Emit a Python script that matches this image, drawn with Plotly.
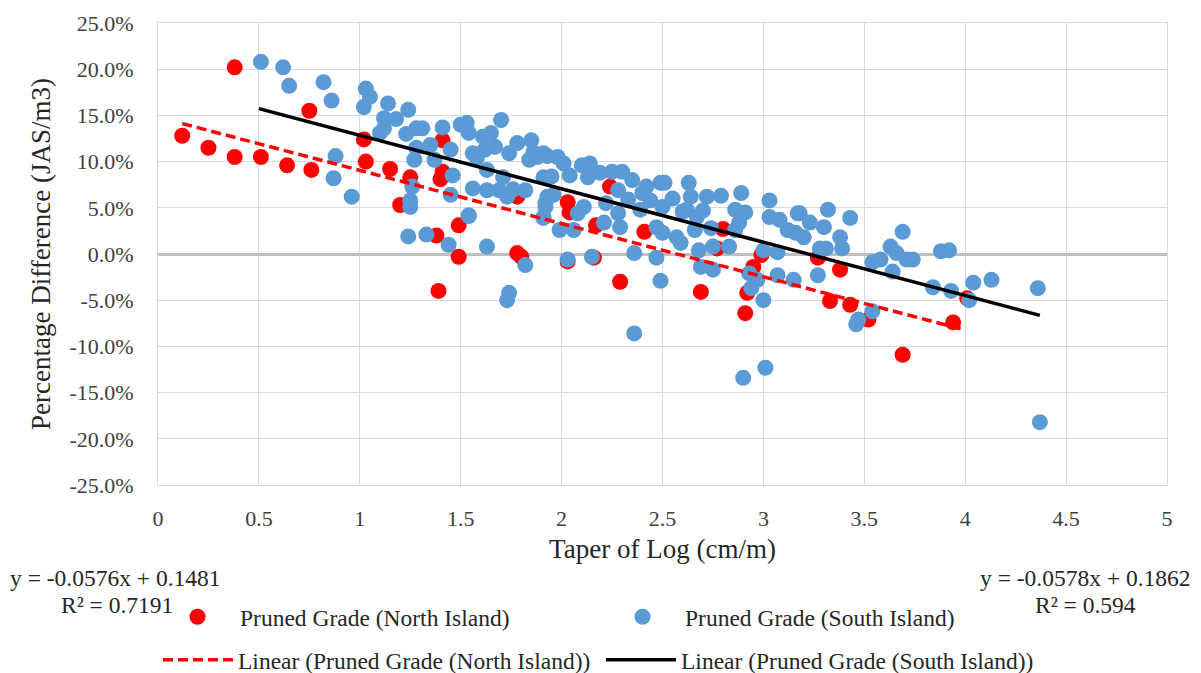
import plotly.graph_objects as go

# ---------------- data ----------------
north_x = [0.12, 0.25, 0.38, 0.38, 0.51, 0.64, 0.75, 0.76, 1.02, 1.03, 1.15, 1.25, 1.20,
           1.40, 1.41, 1.41, 1.38, 1.39, 1.49, 1.49, 1.78, 1.78, 1.80, 2.03, 2.04, 2.03,
           2.16, 2.17, 2.29, 2.41, 2.24, 2.80, 2.77, 2.99, 2.95, 2.69, 2.92, 2.91, 3.27,
           3.38, 3.33, 3.43, 3.52, 3.69, 4.01, 3.94]
north_y = [12.8, 11.5, 20.2, 10.5, 10.5, 9.6, 15.5, 9.1, 12.4, 10.0, 9.2, 8.3, 5.3,
           8.1, 8.9, 12.3, 2.0, -4.0, 3.1, -0.3, 6.2, 0.1, -0.3, 5.6, 4.5, -0.8,
           -0.4, 3.1, -3.0, 2.4, 7.3, 2.7, 0.6, -0.1, -1.4, -4.1, -4.2, -6.4, -0.4,
           -1.7, -5.1, -5.5, -7.1, -10.9, -4.8, -7.4]

south_x = [0.51, 0.62, 0.65, 0.82, 0.86, 0.88, 0.87, 0.96, 1.03, 1.05, 1.02, 1.14, 1.12,
           1.12, 1.10, 1.24, 1.23, 1.28, 1.28, 1.26, 1.25, 1.25, 1.24, 1.31, 1.41, 1.35,
           1.37, 1.45, 1.46, 1.45, 1.50, 1.53, 1.54, 1.56, 1.56, 1.61, 1.65, 1.62, 1.63,
           1.63, 1.69, 1.71, 1.74, 1.78, 1.73, 1.82, 1.85, 1.84, 1.88, 1.91, 1.92, 1.91,
           1.54, 1.27, 1.91, 1.98, 2.01, 2.04, 2.14, 2.13, 1.93, 1.96, 1.92, 1.91, 1.99,
           2.06, 2.08, 2.11, 2.25, 2.30, 2.35, 2.28, 2.22, 2.28, 2.29, 2.42, 2.49, 2.51,
           2.44, 2.50, 2.39, 2.47, 2.50, 2.21, 2.57, 2.63, 2.64, 2.72, 2.62, 2.67, 2.66,
           2.74, 2.75, 2.83, 2.59, 2.68, 2.69, 2.75, 2.89, 2.86, 2.91, 2.88, 2.86, 3.03,
           3.03, 3.08, 3.00, 3.07, 3.12, 3.17, 3.16, 2.93, 2.97, 3.07, 3.15, 3.18, 3.23,
           3.32, 3.30, 3.43, 3.38, 3.39, 3.28, 3.31, 3.20, 3.27, 3.54, 3.58, 3.63, 3.69,
           3.66, 3.71, 3.74, 3.64, 3.84, 3.47, 3.46, 3.54, 3.88, 3.92, 3.93, 4.02, 4.04,
           4.13, 4.36, 4.37, 2.90, 3.01, 3.00, 2.94, 2.36, 2.49, 2.47, 2.36, 2.15, 2.03,
           1.82, 1.74, 1.73, 1.63, 1.33, 1.54, 1.93, 1.58, 1.67, 1.76, 1.86, 1.95, 2.19,
           2.33, 2.55, 2.60, 2.79, 1.44, 1.18, 1.70, 2.10, 2.40, 2.70]
south_y = [20.8, 20.2, 18.2, 18.6, 16.6, 10.6, 8.2, 6.2, 17.9, 17.0, 15.9, 16.3, 14.7,
           13.6, 13.1, 15.6, 13.0, 13.6, 11.5, 7.3, 5.8, 5.1, 1.9, 13.6, 13.7, 11.8,
           10.2, 11.3, 8.5, 6.4, 14.0, 14.2, 13.1, 10.9, 7.1, 12.7, 13.1, 11.3, 9.1,
           6.9, 6.9, 8.3, 10.9, 12.0, 6.2, 6.9, 12.3, 10.2, 10.5, 8.3, 5.5, 4.0,
           4.2, 10.2, 10.9, 10.5, 9.8, 8.5, 9.8, 8.3, 6.2, 6.4, 5.1, 3.9, 2.6,
           2.6, 4.4, 5.1, 8.9, 8.9, 8.0, 6.9, 5.5, 4.4, 2.9, 7.3, 7.7, 7.7,
           5.8, 5.1, 4.8, 2.9, 2.3, 3.4, 1.8, 7.7, 6.2, 6.2, 4.8, 4.0, 2.6,
           2.8, 0.8, 0.8, 1.2, 0.4, -1.4, -1.7, 6.6, 4.8, 4.5, 3.4, 2.6, 5.8,
           4.0, 3.7, 0.4, 0.2, 2.6, 4.4, 2.3, -2.1, -2.8, -2.3, -2.8, 4.4, 3.4,
           4.8, 2.9, 3.9, 1.8, 0.6, 0.6, 0.6, 1.8, -2.3, -0.9, -0.6, 0.8, 2.4,
           0.1, -0.6, -0.6, -1.9, -3.6, -7.1, -7.6, -6.2, 0.3, 0.4, -4.0, -5.0, -3.1,
           -2.8, -3.7, -18.2, -13.4, -12.3, -5.0, -3.7, -8.6, -2.9, -0.4, 0.1, -0.3, -0.6,
           -1.2, -4.2, -5.0, 0.8, 2.1, 4.1, 10.6, 10.4, 11.6, 7.0, 11.0, 8.4, 8.8,
           5.9, 6.0, 4.6, 6.3, 1.0, 14.6, 14.5, 9.6, 6.6, 4.7, 3.3]

# Trendline equations shown on the chart
north_slope, north_icpt, north_r2 = -0.0576, 0.1481, 0.7191
south_slope, south_icpt, south_r2 = -0.0578, 0.1862, 0.594
north_range = [0.12, 4.0]
south_range = [0.5, 4.37]

x_ticks = [0, 0.5, 1, 1.5, 2, 2.5, 3, 3.5, 4, 4.5, 5]
x_tick_text = ["0", "0.5", "1", "1.5", "2", "2.5", "3", "3.5", "4", "4.5", "5"]
y_ticks = [25, 20, 15, 10, 5, 0, -5, -10, -15, -20, -25]
y_tick_text = ["25.0%", "20.0%", "15.0%", "10.0%", "5.0%", "0.0%", "-5.0%", "-10.0%",
               "-15.0%", "-20.0%", "-25.0%"]

FONT = '"Liberation Serif", "Times New Roman", serif'
RED = "#FF0000"
BLUE = "#5B9BD5"
TXT = "#262626"

fig = go.Figure()
fig.add_trace(go.Scatter(x=north_x, y=north_y, mode="markers", name="Pruned Grade (North Island)",
                         marker=dict(color=RED, size=16), legend="legend"))
fig.add_trace(go.Scatter(x=south_x, y=south_y, mode="markers", name="Pruned Grade (South Island)",
                         marker=dict(color=BLUE, size=16), legend="legend"))
fig.add_trace(go.Scatter(x=north_range, y=[(north_slope * v + north_icpt) * 100 for v in north_range],
                         mode="lines", name="Linear (Pruned Grade (North Island))",
                         line=dict(color=RED, width=3.5, dash="10px,5px"), legend="legend2"))
fig.add_trace(go.Scatter(x=south_range, y=[(south_slope * v + south_icpt) * 100 for v in south_range],
                         mode="lines", name="Linear (Pruned Grade (South Island))",
                         line=dict(color="black", width=3.5), legend="legend2"))

grid = "#D9D9D9"
fig.update_layout(
    width=1201, height=673,
    margin=dict(l=158, r=34, t=23, b=188, autoexpand=False),
    plot_bgcolor="white", paper_bgcolor="white",
    font=dict(family=FONT, size=22, color=TXT),
    xaxis=dict(range=[0, 5], tickvals=x_ticks, ticktext=x_tick_text, showgrid=True,
               gridcolor=grid, gridwidth=1, zeroline=False, showline=True, linecolor=grid,
               mirror=True, ticks="outside", ticklen=14, tickcolor="rgba(0,0,0,0)",
               tickfont=dict(size=22, family=FONT, color="#404040"),
               title=dict(text="Taper of Log (cm/m)", font=dict(size=27, family=FONT, color=TXT),
                          standoff=8)),
    yaxis=dict(range=[-25, 25], tickvals=y_ticks, ticktext=y_tick_text,
               showgrid=True, gridcolor=grid, gridwidth=1, zeroline=True, zerolinecolor="#BFBFBF",
               zerolinewidth=3, showline=True, linecolor=grid, mirror=True,
               ticks="outside", ticklen=19, tickcolor="rgba(0,0,0,0)",
               tickfont=dict(size=22, family=FONT, color="#404040"),
               title=dict(text="Percentage Difference (JAS/m3)", font=dict(size=27, family=FONT, color=TXT),
                          standoff=10)),
    legend=dict(orientation="h", xref="container", yref="container", x=155 / 1201, xanchor="left",
                y=1 - 617 / 673, yanchor="middle", itemwidth=75,
                entrywidth=355, entrywidthmode="pixels", font=dict(size=23.5, family=FONT, color=TXT),
                bgcolor="rgba(0,0,0,0)"),
    legend2=dict(orientation="h", xref="container", yref="container", x=158 / 1201, xanchor="left",
                 y=1 - 660 / 673, yanchor="middle", itemwidth=70,
                 entrywidth=358, entrywidthmode="pixels", font=dict(size=23.5, family=FONT, color=TXT),
                 bgcolor="rgba(0,0,0,0)"),
    showlegend=True,
)

ann = [
    (f"y = {north_slope}x + {north_icpt}", 115, 578),
    (f"R² = {north_r2}", 117, 605),
    (f"y = {south_slope}x + {south_icpt}", 1085, 578),
    (f"R² = {south_r2}", 1085, 605),
]
for text, px, py in ann:
    fig.add_annotation(text=text, x=(px - 158) / 1009, y=(485 - py) / 462, xref="paper", yref="paper",
                       showarrow=False, xanchor="center", yanchor="middle",
                       font=dict(size=23.5, family=FONT, color=TXT))

fig.write_html("out.html")
